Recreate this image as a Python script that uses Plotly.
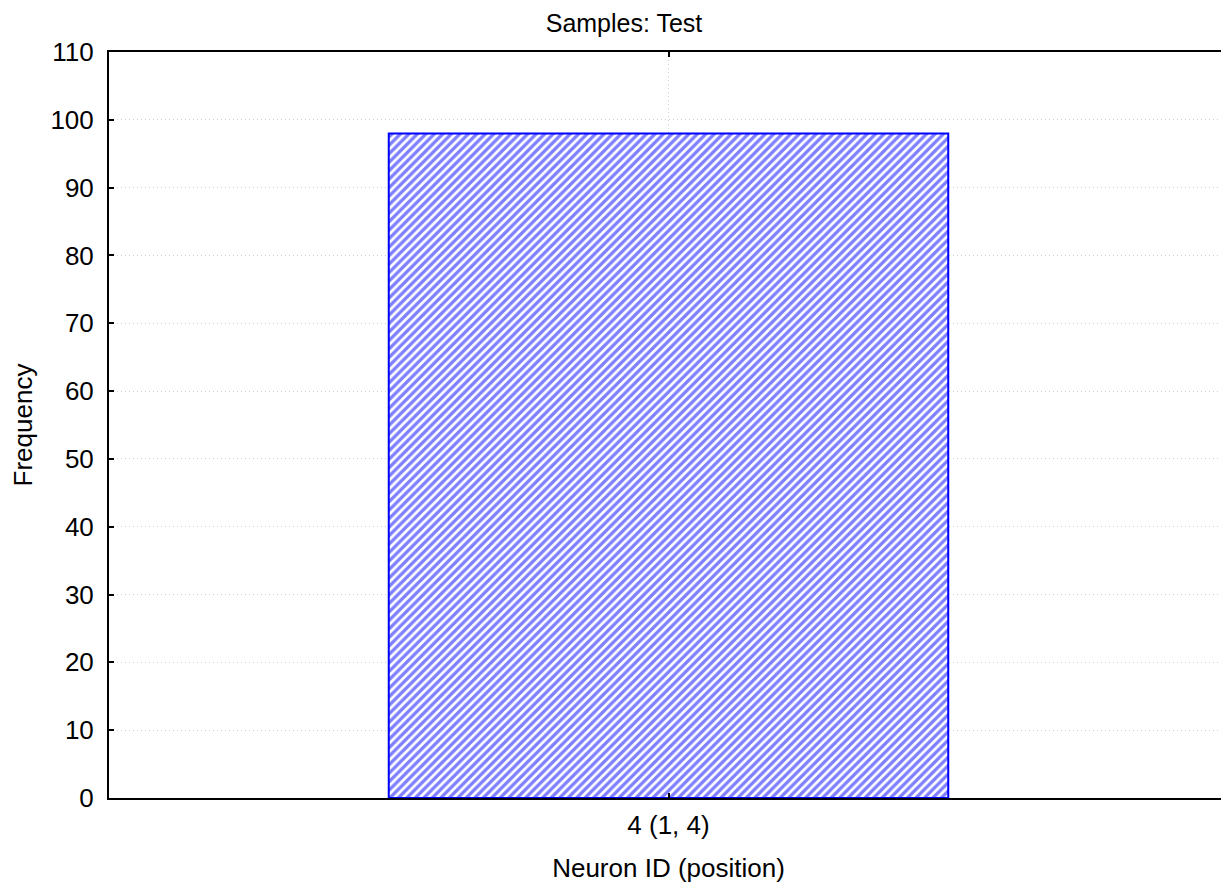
import plotly.graph_objects as go

categories = ["4 (1, 4)"]
frequency = [98]
y_ticks = [0, 10, 20, 30, 40, 50, 60, 70, 80, 90, 100, 110]

FONT = "Liberation Sans, Arial, sans-serif"
W, H = 1221, 882  # page body has 8px default margin

fig = go.Figure()
fig.add_trace(go.Bar(
    x=categories, y=frequency, width=0.5,
    marker=dict(
        color="white",
        line=dict(color="#0000ff", width=2),
        pattern=dict(shape="/", fgcolor="#0000ff", bgcolor="white", size=6, solidity=0.55),
    ),
    showlegend=False,
))
fig.add_trace(go.Scatter(x=categories, y=[None], yaxis="y2", showlegend=False, hoverinfo="skip"))

fig.update_layout(
    width=W, height=H,
    margin=dict(l=101, r=1, t=44, b=92),
    paper_bgcolor="white", plot_bgcolor="white",
    font=dict(family=FONT, size=26, color="black"),
    title=dict(text="Samples: Test", x=0.5045, xanchor="center", yref="container",
               y=1 - 15 / H, yanchor="middle", font=dict(size=25)),
    xaxis=dict(
        type="category", range=[-0.5, 0.5],
        showline=True, linecolor="black", linewidth=2, mirror="ticks",
        ticks="inside", ticklen=5, tickwidth=2, tickcolor="black",
        showgrid=True, gridcolor="#d0d0d0", griddash="1px,3px", gridwidth=1,
        title=dict(text="Neuron ID (position)", standoff=20, font=dict(size=26)),
        tickfont=dict(size=26), ticklabelstandoff=3,
    ),
    yaxis=dict(
        range=[0, 110], tickvals=y_ticks,
        showline=True, linecolor="black", linewidth=2, mirror=False,
        ticks="inside", ticklen=5, tickwidth=2, tickcolor="black",
        showgrid=True, gridcolor="#d0d0d0", griddash="1px,3px", gridwidth=1,
        zeroline=False,
        title=dict(text="Frequency", standoff=14, font=dict(size=26)),
        tickfont=dict(size=26), ticklabelstandoff=8,
    ),
    yaxis2=dict(
        overlaying="y", side="right", range=[0, 110], tickvals=y_ticks,
        showticklabels=False, showline=True, linecolor="#c0c0c0", linewidth=1,
        ticks="inside", ticklen=5, tickwidth=2, tickcolor="black",
        showgrid=False, zeroline=False,
    ),
)

fig.write_html("out.html")
